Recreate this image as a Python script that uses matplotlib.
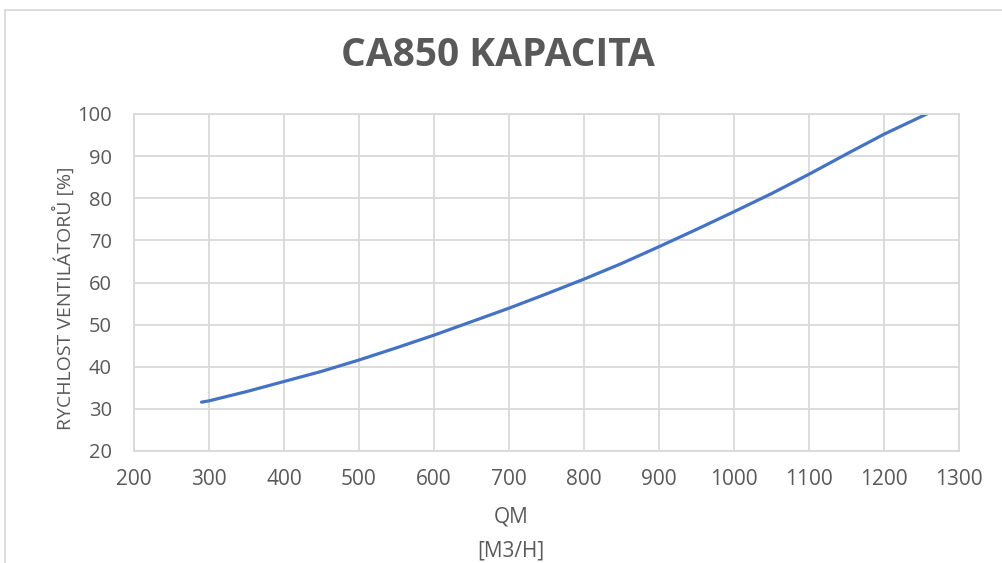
import matplotlib
matplotlib.use("Agg")
import matplotlib.pyplot as plt
from matplotlib.lines import Line2D

# Data
airflow = [290, 300, 350, 400, 450, 500, 550, 600, 650, 700, 750, 800, 850,
           900, 950, 1000, 1050, 1100, 1150, 1200, 1257]
fan_speed = [31.6, 31.9, 34.1, 36.5, 38.9, 41.6, 44.5, 47.5, 50.7, 53.9, 57.3,
             60.8, 64.5, 68.5, 72.6, 76.8, 81.1, 85.7, 90.5, 95.2, 100]
x_ticks = [200, 300, 400, 500, 600, 700, 800, 900, 1000, 1100, 1200, 1300]
y_ticks = [20, 30, 40, 50, 60, 70, 80, 90, 100]

title = "CA850 KAPACITA"
ylabel = "RYCHLOST VENTILÁTORŮ [%]"
xlabel = "QM\n[M3/H]"

W, H = 1003, 563
fig = plt.figure(figsize=(W / 100, H / 100), dpi=100)
font = "Open Sans"
gray = "#595959"
grid = "#D9D9D9"

ax = fig.add_axes([134 / W, 1 - 451 / H, (959 - 134) / W, (451 - 114) / H])
ax.plot(airflow, fan_speed, color="#4472C4", lw=2.3, solid_capstyle="round",
        solid_joinstyle="round")
ax.set_xlim(200, 1300)
ax.set_ylim(20, 100)
ax.set_xticks(x_ticks)
ax.set_yticks(y_ticks)
ax.grid(True, color=grid, lw=1.3)
ax.set_axisbelow(True)
for s in ax.spines.values():
    s.set_color(grid)
    s.set_linewidth(1.3)
ax.tick_params(length=0, labelcolor=gray)
ax.tick_params(axis="y", pad=16, labelsize=14.5)
ax.tick_params(axis="x", pad=13, labelsize=15)
for lab in ax.get_xticklabels() + ax.get_yticklabels():
    lab.set_fontfamily(font)

fig.text(498 / W, 1 - 55 / H, title, ha="center", va="center", fontsize=28,
         fontweight="bold", color=gray, family=font)
fig.text(64 / W, 1 - 298 / H, ylabel, ha="center", va="center", rotation=90,
         fontsize=14, color=gray, family=font)
fig.text(511 / W, 1 - 534 / H, xlabel, ha="center", va="center", fontsize=15,
         color=gray, family=font, linespacing=1.75)

# chart frame
fig.add_artist(Line2D([5.5 / W, 5.5 / W], [0, 1 - 9.5 / H], transform=fig.transFigure,
                      color=grid, lw=1.3))
fig.add_artist(Line2D([5.5 / W, 1], [1 - 9.5 / H, 1 - 9.5 / H], transform=fig.transFigure,
                      color=grid, lw=1.3))

fig.savefig("out.png", dpi=100)
